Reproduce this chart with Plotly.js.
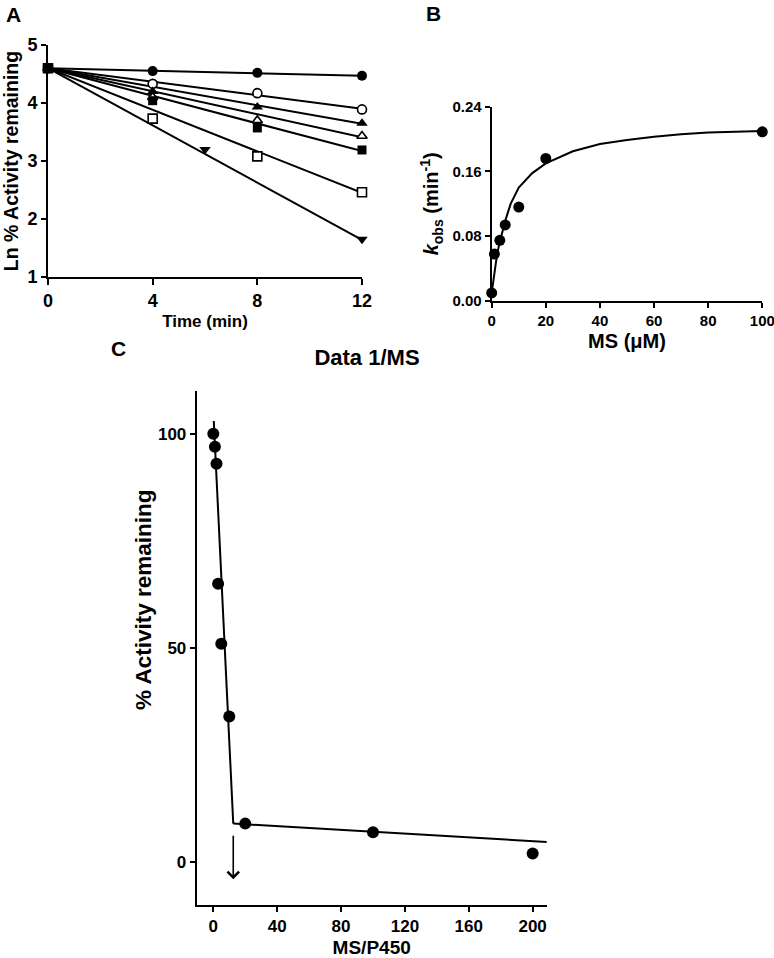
<!DOCTYPE html>
<html>
<head>
<meta charset="utf-8">
<script src="https://cdn.plot.ly/plotly-3.0.1.min.js"></script>
<style>html,body{margin:0;padding:0;background:#fff;}#chart{width:774px;height:958px;}</style>
</head>
<body>
<div id="chart"></div>
<script>
// ---------- Panel A: Ln % activity vs time ----------
const timeA = [0, 4, 8, 12];
const timeA_down = [0, 6, 12];
const fitTime = [0, 12];
const lnFilledCircle = [4.60, 4.55, 4.52, 4.47];
const lnOpenCircle   = [4.60, 4.33, 4.17, 3.89];
const lnFilledTriUp  = [4.60, 4.20, 3.93, 3.65];
const lnOpenTriUp    = [4.60, 4.10, 3.70, 3.43];
const lnFilledSquare = [4.60, 4.04, 3.57, 3.19];
const lnOpenSquare   = [4.60, 3.73, 3.08, 2.46];
const lnFilledTriDown= [4.60, 3.20, 1.65];
const fitFilledCircle = [4.60, 4.47];
const fitOpenCircle   = [4.60, 3.90];
const fitFilledTriUp  = [4.60, 3.64];
const fitOpenTriUp    = [4.60, 3.41];
const fitFilledSquare = [4.60, 3.17];
const fitOpenSquare   = [4.60, 2.45];
const fitFilledTriDown= [4.60, 1.64];
const ticksA_x = [0, 4, 8, 12];
const ticksA_y = [1, 2, 3, 4, 5];

// ---------- Panel B: kobs vs MS ----------
const msB   = [0, 1, 3, 5, 10, 20, 100];
const kobsB = [0.010, 0.058, 0.075, 0.094, 0.116, 0.176, 0.209];
const curveMS   = [0, 1, 2, 3, 4, 5, 7, 10, 15, 20, 30, 40, 50, 60, 70, 80, 90, 100];
const curveKobs = [0.010, 0.035, 0.058, 0.073, 0.087, 0.099, 0.120, 0.140, 0.158, 0.170, 0.185, 0.194, 0.199, 0.203, 0.206, 0.208, 0.209, 0.210];
const ticksB_x = [0, 20, 40, 60, 80, 100];
const ticksB_y = [0, 0.08, 0.16, 0.24];
const ticksB_ytext = ['0.00', '0.08', '0.16', '0.24'];

// ---------- Panel C: % activity vs MS/P450 ----------
const ratioC    = [0, 1, 2, 3, 5, 10, 20, 100, 200];
const activityC = [100, 97, 93, 65, 51, 34, 9, 7, 2];
const fit1X = [0.3, 12.5];
const fit1Y = [103, 9];
const fit2X = [12.5, 209];
const fit2Y = [9, 4.7];
const arrowX = 12.5;
const arrowFromY = 6.5;
const arrowToY = -4;
const ticksC_x = [0, 40, 80, 120, 160, 200];
const ticksC_y = [0, 50, 100];

const FONT = '"Liberation Sans", Arial, sans-serif';
const black = '#000';

function markerTrace(x, y, sym, filled, xa, ya, size) {
  return {
    x: x, y: y, xaxis: xa, yaxis: ya, type: 'scatter', mode: 'markers',
    cliponaxis: false, showlegend: false, hoverinfo: 'skip',
    marker: {symbol: sym, size: size, color: filled ? black : '#fff',
             line: {color: black, width: filled ? 0 : 1.6}}
  };
}
function lineTrace(x, y, xa, ya, w) {
  return {x: x, y: y, xaxis: xa, yaxis: ya, type: 'scatter', mode: 'lines',
          cliponaxis: false, showlegend: false, hoverinfo: 'skip',
          line: {color: black, width: w || 2}};
}

const data = [
  lineTrace(fitTime, fitFilledCircle, 'x', 'y'),
  lineTrace(fitTime, fitOpenCircle, 'x', 'y'),
  lineTrace(fitTime, fitFilledTriUp, 'x', 'y'),
  lineTrace(fitTime, fitOpenTriUp, 'x', 'y'),
  lineTrace(fitTime, fitFilledSquare, 'x', 'y'),
  lineTrace(fitTime, fitOpenSquare, 'x', 'y'),
  lineTrace(fitTime, fitFilledTriDown, 'x', 'y'),
  markerTrace(timeA, lnFilledCircle, 'circle', true, 'x', 'y', 10),
  markerTrace(timeA, lnOpenCircle, 'circle', false, 'x', 'y', 9),
  markerTrace(timeA, lnFilledTriUp, 'triangle-up', true, 'x', 'y', 10),
  markerTrace(timeA, lnOpenTriUp, 'triangle-up', false, 'x', 'y', 9),
  markerTrace(timeA, lnOpenSquare, 'square', false, 'x', 'y', 9),
  markerTrace(timeA, lnFilledSquare, 'square', true, 'x', 'y', 9),
  markerTrace(timeA_down, lnFilledTriDown, 'triangle-down', true, 'x', 'y', 10),

  lineTrace(curveMS, curveKobs, 'x2', 'y2'),
  markerTrace(msB, kobsB, 'circle', true, 'x2', 'y2', 11),

  lineTrace(fit1X, fit1Y, 'x3', 'y3'),
  lineTrace(fit2X, fit2Y, 'x3', 'y3'),
  markerTrace(ratioC, activityC, 'circle', true, 'x3', 'y3', 12)
];

function axisBase(extra) {
  return Object.assign({
    showline: true, linecolor: black, linewidth: 2, mirror: false,
    showgrid: false, zeroline: false, ticks: 'outside', ticklen: 5,
    tickwidth: 2, tickcolor: black, fixedrange: true,
    ticklabeloverflow: 'allow',
    tickfont: {family: FONT, size: 17, color: black, weight: 'bold'},
    automargin: false
  }, extra);
}

const layout = {
  width: 774, height: 958,
  margin: {l: 0, r: 0, t: 0, b: 0},
  paper_bgcolor: '#fff', plot_bgcolor: 'rgba(0,0,0,0)',
  showlegend: false,
  title: {text: 'Data 1/MS', x: 367/774, y: 1 - 357/958, xanchor: 'center', yanchor: 'middle',
          xref: 'paper', yref: 'paper',
          font: {family: FONT, size: 22, color: black, weight: 'bold'}},
  xaxis: axisBase({domain: [48/774, 362/774], range: [0, 12], anchor: 'y',
    tickvals: ticksA_x, ticklen: 6,
    title: {text: 'Time (min)', standoff: 6, font: {family: FONT, size: 17, color: black, weight: 'bold'}},
    tickfont: {family: FONT, size: 18, color: black, weight: 'bold'}}),
  yaxis: axisBase({domain: [1 - 277/958, 1 - 45/958], range: [1, 5], anchor: 'x',
    tickvals: ticksA_y,
    title: {text: 'Ln % Activity remaining', standoff: 4, font: {family: FONT, size: 19.5, color: black, weight: 'bold'}},
    tickfont: {family: FONT, size: 18, color: black, weight: 'bold'}}),

  xaxis2: axisBase({domain: [491.7/774, 762.3/774], range: [0, 100], anchor: 'y2',
    tickvals: ticksB_x,
    title: {text: 'MS (μM)', standoff: 6, font: {family: FONT, size: 20, color: black, weight: 'bold'}},
    tickfont: {family: FONT, size: 15, color: black, weight: 'bold'}}),
  yaxis2: axisBase({domain: [1 - 301/958, 1 - 106.7/958], range: [0, 0.24], anchor: 'x2',
    tickvals: ticksB_y, ticktext: ticksB_ytext,
    title: {text: '<i>k</i><sub>obs</sub> (min<sup>-1</sup>)', standoff: 8, font: {family: FONT, size: 20, color: black, weight: 'bold'}},
    tickfont: {family: FONT, size: 15, color: black, weight: 'bold'}}),

  xaxis3: axisBase({domain: [196.7/774, 546.7/774], range: [-10.4, 208.8], anchor: 'y3',
    tickvals: ticksC_x,
    title: {text: 'MS/P450', standoff: 8, font: {family: FONT, size: 19, color: black, weight: 'bold'}},
    tickfont: {family: FONT, size: 17, color: black, weight: 'bold'}}),
  yaxis3: axisBase({domain: [1 - 905/958, 1 - 391/958], range: [-10, 110], anchor: 'x3',
    tickvals: ticksC_y,
    tickfont: {family: FONT, size: 17, color: black, weight: 'bold'}}),

  annotations: [
    {text: 'A', xref: 'paper', yref: 'paper', x: 14/774, y: 1 - 15/958, xanchor: 'center', yanchor: 'middle',
     showarrow: false, font: {family: FONT, size: 21, color: black, weight: 'bold'}},
    {text: 'B', xref: 'paper', yref: 'paper', x: 433/774, y: 1 - 13/958, xanchor: 'center', yanchor: 'middle',
     showarrow: false, font: {family: FONT, size: 21, color: black, weight: 'bold'}},
    {text: 'C', xref: 'paper', yref: 'paper', x: 118/774, y: 1 - 348/958, xanchor: 'center', yanchor: 'middle',
     showarrow: false, font: {family: FONT, size: 21, color: black, weight: 'bold'}},
    {text: '% Activity remaining', xref: 'paper', yref: 'paper', x: 143/774, y: 1 - 600/958,
     xanchor: 'center', yanchor: 'middle', textangle: -90, showarrow: false,
     font: {family: FONT, size: 22.5, color: black, weight: 'bold'}},
    {text: '', xref: 'x3', yref: 'y3', x: arrowX, y: arrowToY, ax: arrowX, ay: arrowFromY,
     axref: 'x3', ayref: 'y3', showarrow: true, arrowhead: 4, arrowsize: 1.4, arrowwidth: 1.6, arrowcolor: black}
  ]
};

Plotly.newPlot('chart', data, layout, {staticPlot: true, displayModeBar: false});
</script>
</body>
</html>
